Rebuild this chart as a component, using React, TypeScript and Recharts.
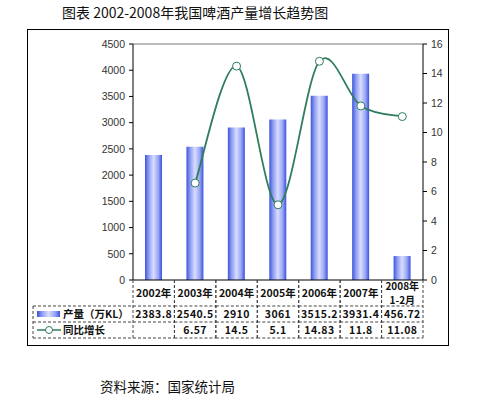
import React from 'react'
import { ComposedChart, Bar, Line, XAxis, YAxis, ReferenceLine } from 'recharts'

const years = ['2002年', '2003年', '2004年', '2005年', '2006年', '2007年', '2008年\n1-2月']
const output = [2383.8, 2540.5, 2910, 3061, 3515.2, 3931.4, 456.72]
const outputLabels = ['2383.8', '2540.5', '2910', '3061', '3515.2', '3931.4', '456.72']
const growth: (number | null)[] = [null, 6.57, 14.5, 5.1, 14.83, 11.8, 11.08]
const growthLabels = ['', '6.57', '14.5', '5.1', '14.83', '11.8', '11.08']
const leftTicks = [0, 500, 1000, 1500, 2000, 2500, 3000, 3500, 4000, 4500]
const rightTicks = [0, 2, 4, 6, 8, 10, 12, 14, 16]

const W = 478
const H = 399
const M = { top: 44, right: 15, left: 73, bottom: 0 }
const PLOT_L = 133
const PLOT_R = 423
const BAND = (PLOT_R - PLOT_L) / years.length
const DASH = '3 2'
const TXT = '"Noto Sans CJK SC", "DejaVu Sans", sans-serif'
const NUM = '"Liberation Sans", Arial, sans-serif'

// excel-like smoothing (catmull-rom)
function smooth(context: any) {
  let pts: number[][] = []
  return {
    areaStart() {},
    areaEnd() {},
    lineStart() { pts = [] },
    point(x: number, y: number) { pts.push([+x, +y]) },
    lineEnd() {
      if (!pts.length) return
      context.moveTo(pts[0][0], pts[0][1])
      for (let i = 0; i < pts.length - 1; i++) {
        const p0 = pts[i - 1] || pts[i]
        const p1 = pts[i]
        const p2 = pts[i + 1]
        const p3 = pts[i + 2] || p2
        context.bezierCurveTo(
          p1[0] + (p2[0] - p0[0]) / 6, p1[1] + (p2[1] - p0[1]) / 6,
          p2[0] - (p3[0] - p1[0]) / 6, p2[1] - (p3[1] - p1[1]) / 6,
          p2[0], p2[1]
        )
      }
    },
  }
}

const data = years.map((y, i) => ({ year: y, output: output[i], growth: growth[i] }))

function TableTick(props: any) {
  const { x, y, payload } = props
  const i = payload.index
  const l = x - BAND / 2
  const r = x + BAND / 2
  const rows = [0, 26, 42, 58]
  const lines = String(payload.value).split('\n')
  const cell = { stroke: '#444', strokeDasharray: DASH, strokeWidth: 1 }
  const bold = { fontFamily: TXT, fontWeight: 700, fontSize: 10.5, fill: '#111' }
  const num = { fontFamily: TXT, fontWeight: 700, fontSize: 10.5, fill: '#111', letterSpacing: 0.4 }
  return (
    <g>
      <line x1={l} y1={y} x2={l} y2={y + rows[3]} {...cell} />
      <line x1={r} y1={y} x2={r} y2={y + rows[3]} {...cell} />
      <line x1={l} y1={y + rows[1]} x2={r} y2={y + rows[1]} {...cell} />
      <line x1={l} y1={y + rows[2]} x2={r} y2={y + rows[2]} {...cell} />
      <line x1={l} y1={y + rows[3]} x2={r} y2={y + rows[3]} {...cell} />
      {lines.length === 1 ? (
        <text x={x} y={y + 17} textAnchor="middle" {...bold}>{lines[0]}</text>
      ) : (
        <>
          <text x={x} y={y + 10} textAnchor="middle" {...bold} fontSize={10}>{lines[0]}</text>
          <text x={x} y={y + 24} textAnchor="middle" {...bold} fontSize={10}>{lines[1]}</text>
        </>
      )}
      <text x={x} y={y + 38} textAnchor="middle" {...num}>{outputLabels[i]}</text>
      <text x={x} y={y + 54} textAnchor="middle" {...num}>{growthLabels[i]}</text>
      {i === 0 && (
        <g>
          <line x1={33} y1={y + rows[1]} x2={l} y2={y + rows[1]} {...cell} />
          <line x1={33} y1={y + rows[2]} x2={l} y2={y + rows[2]} {...cell} />
          <line x1={33} y1={y + rows[3]} x2={l} y2={y + rows[3]} {...cell} />
          <line x1={33} y1={y + rows[1]} x2={33} y2={y + rows[3]} {...cell} />
          <rect x={37} y={y + 31} width={23} height={6} fill="url(#barGrad)" />
          <line x1={37} y1={y + 50} x2={61} y2={y + 50} stroke="#2f7d5c" strokeWidth={1.5} />
          <circle cx={49} cy={y + 50} r={3.5} fill="#fff" stroke="#2f7d5c" strokeWidth={1} />
          <text x={63} y={y + 38} {...bold}>产量（万KL）</text>
          <text x={63} y={y + 54} {...bold}>同比增长</text>
        </g>
      )}
    </g>
  )
}

export default function App() {
  return (
    <div style={{ position: 'absolute', left: 0, top: 0, width: W, height: H, background: '#fff', overflow: 'hidden' }}>
      <div style={{ position: 'absolute', left: 62, top: 4, fontFamily: TXT, fontSize: 14, lineHeight: '16px', color: '#111', whiteSpace: 'nowrap' }}>
        图表 2002-2008年我国啤酒产量增长趋势图
      </div>
      <div style={{ position: 'absolute', left: 27, top: 29, width: 422, height: 317, border: '1px solid #000', boxSizing: 'border-box' }} />
      <div style={{ position: 'absolute', left: 100, top: 378, fontFamily: TXT, fontSize: 13.5, lineHeight: '16px', color: '#111', whiteSpace: 'nowrap' }}>
        资料来源：国家统计局
      </div>
      <div style={{ position: 'absolute', left: 0, top: 0 }}>
        <ComposedChart width={W} height={H} data={data} margin={M} barSize={17}>
          <defs>
            <linearGradient id="barGrad" x1="0" y1="0" x2="1" y2="0">
              <stop offset="0%" stopColor="#3d54dc" />
              <stop offset="22%" stopColor="#8e9cf2" />
              <stop offset="50%" stopColor="#d9ddff" />
              <stop offset="78%" stopColor="#9aa6f4" />
              <stop offset="100%" stopColor="#3a52dc" />
            </linearGradient>
          </defs>
          <XAxis
            dataKey="year"
            height={119}
            interval={0}
            tickSize={0}
            tickMargin={0}
            tickLine={false}
            axisLine={{ stroke: '#000' }}
            tick={<TableTick />}
          />
          <YAxis
            yAxisId="left"
            domain={[0, 4500]}
            ticks={leftTicks}
            width={60}
            tickSize={4}
            tickMargin={4}
            axisLine={{ stroke: '#000' }}
            tickLine={{ stroke: '#000' }}
            tick={{ fontFamily: NUM, fontSize: 10.5, fill: '#333' }}
            allowDataOverflow
          />
          <YAxis
            yAxisId="right"
            orientation="right"
            domain={[0, 16]}
            ticks={rightTicks}
            width={40}
            tickSize={4}
            tickMargin={4}
            axisLine={{ stroke: '#000' }}
            tickLine={{ stroke: '#000' }}
            tick={{ fontFamily: NUM, fontSize: 10.5, fill: '#333' }}
            allowDataOverflow
          />
          <ReferenceLine yAxisId="left" y={4500} stroke="#777" />
          <Bar yAxisId="left" dataKey="output" fill="url(#barGrad)" isAnimationActive={false} />
          <Line
            yAxisId="right"
            dataKey="growth"
            type={smooth as any}
            stroke="#2f7d5c"
            strokeWidth={1.8}
            dot={{ r: 4, fill: '#fff', stroke: '#2f7d5c', strokeWidth: 1 }}
            activeDot={false}
            isAnimationActive={false}
          />
        </ComposedChart>
      </div>
    </div>
  )
}
